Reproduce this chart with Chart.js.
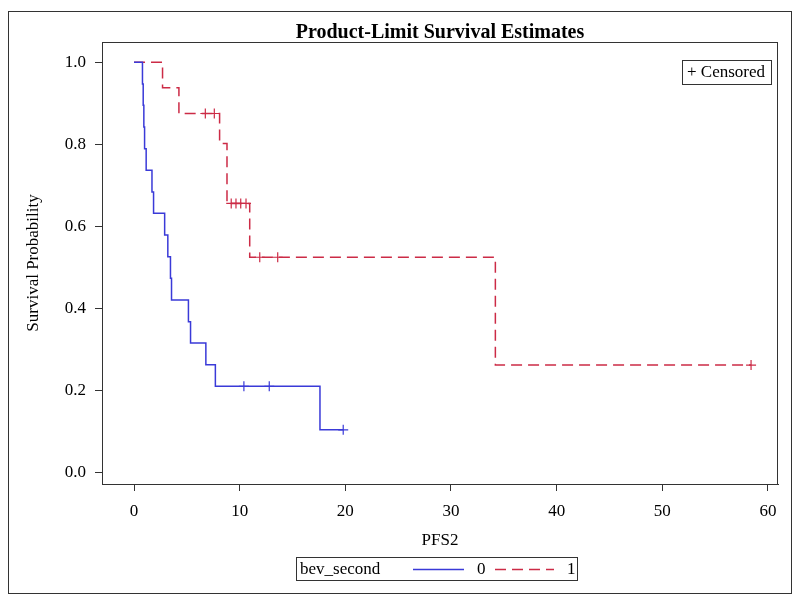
<!DOCTYPE html>
<html>
<head>
<meta charset="utf-8">
<title>Product-Limit Survival Estimates</title>
<script src="https://cdn.jsdelivr.net/npm/chart.js@4"></script>
<style>
  html, body { margin: 0; padding: 0; background: #fff; }
  #wrap { width: 800px; height: 604px; }
</style>
</head>
<body>
<div id="wrap"><canvas id="km" width="800" height="604"></canvas></div>
<script>
// bev_second = 0 : event times and survival after each event
const bev0Times = [0, 0.8, 0.87, 0.93, 1.0, 1.15, 1.7, 1.85, 2.9, 3.2, 3.45, 3.55, 5.15, 5.35, 6.8, 7.7, 17.6];
const bev0Surv = [1, 0.947, 0.895, 0.842, 0.789, 0.737, 0.684, 0.632, 0.579, 0.526, 0.474, 0.421, 0.368, 0.316, 0.263, 0.211, 0.105];
const bev0Censored = [10.4, 12.8, 19.8];

// bev_second = 1
const bev1Times = [0, 2.7, 4.25, 8.1, 8.8, 10.95, 34.2];
const bev1Surv = [1, 0.9375, 0.875, 0.802, 0.656, 0.525, 0.2625];
const bev1Censored = [6.75, 7.6, 9.2, 9.65, 10.1, 10.6, 11.9, 13.6, 58.4];

const xTicks = [0, 10, 20, 30, 40, 50, 60];
const yTicks = [0, 0.2, 0.4, 0.6, 0.8, 1.0];

const BLUE = "#3a3ad8";
const RED = "#cc2b46";
const SERIF = "'Liberation Serif', 'Times New Roman', serif";

// value of the step curve at time t
function survAt(times, surv, t) {
  let s = surv[0];
  for (let i = 0; i < times.length; i++) {
    if (times[i] <= t) s = surv[i];
  }
  return s;
}

function curvePoints(times, surv, cens) {
  const pts = times.map((t, i) => ({ x: t, y: surv[i] }));
  cens.forEach((t) => pts.push({ x: t, y: survAt(times, surv, t) }));
  return pts.sort((a, b) => a.x - b.x);
}

function censorPoints(times, surv, cens) {
  return cens.map((t) => ({ x: t, y: survAt(times, surv, t) }));
}

// frame, outer border, title and the two legends
const decorations = {
  id: "decorations",
  afterDraw(chart) {
    const { ctx, chartArea: a } = chart;
    ctx.save();
    ctx.strokeStyle = "#333";
    ctx.lineWidth = 1;
    ctx.strokeRect(a.left + 0.5, a.top + 0.5, a.right - a.left - 1, a.bottom - a.top);
    ctx.strokeRect(8.5, 11.5, 783, 582);

    ctx.fillStyle = "#000";
    ctx.font = "bold 20px " + SERIF;
    ctx.textAlign = "center";
    ctx.textBaseline = "middle";
    ctx.fillText("Product-Limit Survival Estimates", (a.left + a.right) / 2, 33);

    // censored box
    ctx.font = "17px " + SERIF;
    ctx.textAlign = "left";
    ctx.strokeRect(682.5, 60.5, 89, 24);
    ctx.fillText("+ Censored", 687, 73);

    // group legend
    ctx.strokeRect(296.5, 557.5, 281, 23);
    ctx.fillText("bev_second", 300, 570);
    ctx.lineWidth = 1.5;
    ctx.strokeStyle = BLUE;
    ctx.beginPath();
    ctx.moveTo(413, 569.5);
    ctx.lineTo(464, 569.5);
    ctx.stroke();
    ctx.fillText("0", 477, 570);
    ctx.strokeStyle = RED;
    ctx.setLineDash([11, 6]);
    ctx.beginPath();
    ctx.moveTo(495, 569.5);
    ctx.lineTo(554, 569.5);
    ctx.stroke();
    ctx.setLineDash([]);
    ctx.fillText("1", 567, 570);
    ctx.restore();
  },
};

new Chart(document.getElementById("km"), {
  type: "line",
  data: {
    datasets: [
      {
        label: "0",
        data: curvePoints(bev0Times, bev0Surv, bev0Censored),
        borderColor: BLUE,
        borderWidth: 1.5,
        stepped: "before",
        pointRadius: 0,
        fill: false,
      },
      {
        label: "1",
        data: curvePoints(bev1Times, bev1Surv, bev1Censored),
        borderColor: RED,
        borderWidth: 1.5,
        borderDash: [11, 6],
        stepped: "before",
        pointRadius: 0,
        fill: false,
      },
      {
        label: "cens0",
        data: censorPoints(bev0Times, bev0Surv, bev0Censored),
        showLine: false,
        pointStyle: "cross",
        pointRadius: 5,
        pointBorderWidth: 1.2,
        pointBorderColor: BLUE,
      },
      {
        label: "cens1",
        data: censorPoints(bev1Times, bev1Surv, bev1Censored),
        showLine: false,
        pointStyle: "cross",
        pointRadius: 5,
        pointBorderWidth: 1.2,
        pointBorderColor: RED,
      },
    ],
  },
  options: {
    responsive: false,
    animation: false,
    layout: { padding: { left: 0, right: 22, top: 42, bottom: 0 } },
    plugins: {
      legend: { display: false },
      tooltip: { enabled: false },
      title: { display: false },
    },
    scales: {
      x: {
        type: "linear",
        min: -3.03,
        max: 60.95,
        afterFit: (s) => { s.height = 120; },
        afterBuildTicks: (s) => { s.ticks = xTicks.map((v) => ({ value: v })); },
        grid: { drawOnChartArea: false, drawTicks: true, tickLength: 7, color: "#333" },
        border: { color: "#333" },
        ticks: { color: "#000", padding: 10, font: { family: SERIF, size: 17 }, maxRotation: 0 },
        title: { display: true, text: "PFS2", color: "#000", font: { family: SERIF, size: 17 }, padding: { top: 0, bottom: 53 } },
      },
      y: {
        type: "linear",
        min: -0.027,
        max: 1.049,
        afterFit: (s) => { s.width = 102; },
        afterBuildTicks: (s) => { s.ticks = yTicks.map((v) => ({ value: v })); },
        grid: { drawOnChartArea: false, drawTicks: true, tickLength: 7, color: "#333" },
        border: { color: "#333" },
        ticks: { color: "#000", padding: 9, font: { family: SERIF, size: 17 }, callback: (v) => v.toFixed(1) },
        title: { display: true, text: "Survival Probability", color: "#000", font: { family: SERIF, size: 17 }, padding: { top: 23, bottom: 0 } },
      },
    },
  },
  plugins: [decorations],
});
</script>
</body>
</html>
